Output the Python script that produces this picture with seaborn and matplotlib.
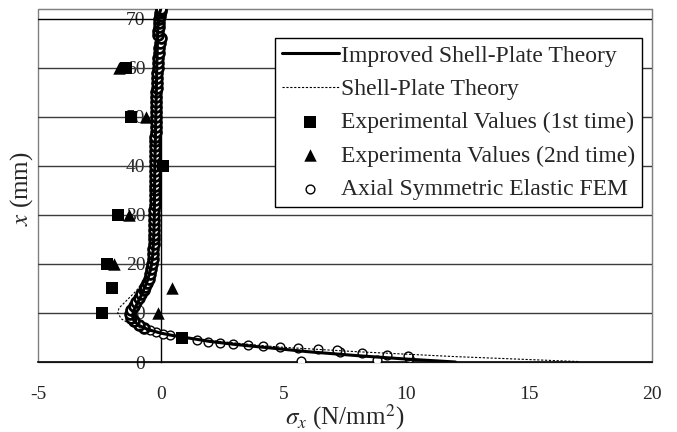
import numpy as np
import pandas as pd
import matplotlib
matplotlib.use("Agg")
import matplotlib.pyplot as plt
import seaborn as sns
from matplotlib.patches import Rectangle

# Improved Shell-Plate Theory (sigma_x, x)
imp_sigma = [12.0, 10.0, 8.0, 6.0, 5.0, 4.0, 3.0, 2.0, 1.0, 0.5, 0.0, -0.5, -0.9, -1.1, -1.15,
             -1.1, -0.95, -0.75, -0.55, -0.4, -0.32, -0.28, -0.26, -0.24, -0.2, -0.16, -0.12, -0.05, 0.0]
imp_x = [0.0, 0.6, 1.3, 2.1, 2.6, 3.1, 3.6, 4.2, 5.0, 5.4, 5.9, 6.6, 7.5, 8.5, 9.5,
         10.5, 12.0, 14.0, 16.5, 19.0, 22.0, 26.0, 30.0, 40.0, 50.0, 60.0, 68.0, 71.0, 72.0]

# Shell-Plate Theory
sp_sigma = [17.0, 15.0, 12.0, 10.0, 8.0, 6.0, 5.0, 4.0, 3.0, 2.0, 1.0, 0.0, -0.6, -1.2, -1.6,
            -1.75, -1.7, -1.4, -1.0, -0.7, -0.45, -0.33, -0.28, -0.26, -0.24, -0.2, -0.15, -0.1, 0.0]
sp_x = [0.1, 0.5, 1.1, 1.6, 2.1, 2.7, 3.0, 3.4, 3.9, 4.4, 5.0, 5.8, 6.5, 7.6, 8.8,
        10.0, 11.0, 12.5, 14.5, 16.5, 19.0, 22.0, 26.0, 30.0, 40.0, 50.0, 60.0, 68.0, 72.0]

# Experimental values
exp1_sigma = [-1.4, -1.2, 0.08, -1.75, -2.2, -2.0, -2.4, 0.85]
exp1_x = [60, 50, 40, 30, 20, 15, 10, 5]
exp2_sigma = [-1.7, -0.6, -1.3, -1.9, 0.45, -0.1]
exp2_x = [60, 50, 30, 20, 15, 10]

# Axial Symmetric Elastic FEM - outer (stress decaying) part
fem_sigma = [10.1, 10.05, 9.2, 8.8, 8.2, 7.3, 7.17, 6.39, 5.7, 5.58, 4.85, 4.15, 3.54, 2.93,
             2.4, 1.91, 1.47, 0.85, 0.37, 0.1, -0.2, -0.45]
fem_x = [0.8, 1.2, 1.4, 0.4, 1.8, 2.1, 2.4, 2.7, 0.2, 2.9, 3.1, 3.3, 3.5, 3.7,
         3.9, 4.1, 4.5, 4.8, 5.5, 5.8, 6.1, 6.5]
# Axial Symmetric Elastic FEM - dense band along the wall
band_sigma = [-0.7, -0.9, -1.1, -1.2, -1.25,
              -1.2, -1.1, -1.0, -0.9, -0.8, -0.7, -0.62, -0.55, -0.48, -0.43, -0.38, -0.35,
              -0.33, -0.31, -0.3, -0.29, -0.28, -0.28, -0.27, -0.27, -0.26, -0.26, -0.26,
              -0.25, -0.25, -0.25, -0.25, -0.25, -0.24, -0.24, -0.24, -0.24, -0.23, -0.23,
              -0.23, -0.22, -0.22, -0.22, -0.21, -0.21, -0.2, -0.2, -0.2, -0.19, -0.19, -0.18,
              -0.18, -0.17, -0.16, -0.15, -0.14, -0.13, -0.12, -0.1, -0.08, -0.05, -0.02, 0.0,
              -0.11, -0.1, -0.09, -0.08, -0.06, -0.04, -0.02, 0.0, 0.01]
band_x = [7.0, 7.6, 8.3, 9.0, 9.8,
          10.6, 11.4, 12.2, 13.0, 13.8, 14.6, 15.4, 16.2, 17.0, 18.0, 19.0, 20.0,
          21.0, 22.0, 23.0, 24.0, 25.0, 26.0, 27.0, 28.0, 29.0, 30.0, 31.0,
          32.0, 33.0, 34.0, 35.0, 36.0, 37.0, 38.0, 39.0, 40.0, 41.0, 42.0,
          43.0, 44.0, 45.0, 46.0, 47.0, 48.0, 49.0, 50.0, 51.0, 52.0, 53.0, 54.0,
          55.0, 56.0, 57.0, 58.0, 59.0, 60.0, 61.0, 62.0, 63.0, 64.0, 65.0, 66.0,
          66.8, 67.6, 68.4, 69.2, 70.0, 70.6, 71.2, 71.7, 72.0]

sns.set_style("white")
plt.rcParams["font.family"] = ["Liberation Serif", "DejaVu Serif"]
plt.rcParams["mathtext.fontset"] = "stix"

fig = plt.figure(figsize=(6.77, 4.32), dpi=100)
ax = fig.add_axes([0.056, 0.162, 0.907, 0.817])

sns.scatterplot(x=fem_sigma, y=fem_x, ax=ax, marker="o", s=40, facecolor="white",
                edgecolor="black", linewidth=1.0, zorder=3, label="Axial Symmetric Elastic FEM")
sns.scatterplot(x=band_sigma, y=band_x, ax=ax, marker="o", s=50, facecolor="white",
                edgecolor="black", linewidth=2.0, zorder=3)
sns.lineplot(x=sp_sigma, y=sp_x, ax=ax, sort=False, estimator=None, color="black", lw=0.8,
             linestyle=(0, (2, 1.5)), zorder=4, label="Shell-Plate Theory")
sns.lineplot(x=imp_sigma, y=imp_x, ax=ax, sort=False, estimator=None, color="black", lw=2.2,
             zorder=5, label="Improved Shell-Plate Theory")
sns.scatterplot(x=exp1_sigma, y=exp1_x, ax=ax, marker="s", s=75, color="black",
                edgecolor="black", linewidth=0, zorder=6, label="Experimental Values (1st time)")
sns.scatterplot(x=exp2_sigma, y=exp2_x, ax=ax, marker="^", s=80, color="black",
                edgecolor="black", linewidth=0, zorder=6, label="Experimenta Values (2nd time)")

ax.set_xlim(-5, 20)
ax.set_ylim(0, 72)
ax.set_xticks([-5, 0, 5, 10, 15, 20])
ax.set_xticklabels(["-5", "0", "5", "10", "15", "20"])
ax.set_yticks(range(0, 71, 10))

for y in range(10, 71, 10):
    ax.axhline(y, color="#3c3c3c" if y < 70 else "black", lw=1.0, zorder=1)

ax.spines["left"].set_position(("data", 0))
ax.spines["left"].set_color("black")
ax.spines["left"].set_linewidth(1.0)
ax.spines["left"].set_zorder(2)
ax.spines["bottom"].set_color("black")
ax.spines["bottom"].set_linewidth(1.2)
ax.spines["top"].set_color("#808080")
ax.spines["right"].set_color("#808080")
ax.add_patch(Rectangle((0, 0), 1, 1, transform=ax.transAxes, fill=False,
                       edgecolor="#808080", lw=1.0, zorder=0.5, clip_on=False))

ax.tick_params(axis="y", length=0, pad=11, labelsize=14)
ax.tick_params(axis="x", direction="in", length=7, width=0.8, pad=17, labelsize=14)
for lab in ax.get_yticklabels():
    lab.set_zorder(2)

ax.set_xlabel(r"$\sigma_x$ (N/mm$^2$)", fontsize=18, labelpad=0)
ax.set_ylabel(r"$x$ (mm)", fontsize=18)
ax.yaxis.set_label_coords(-0.005, 0.49)

handles, labels = ax.get_legend_handles_labels()
order = ["Improved Shell-Plate Theory", "Shell-Plate Theory", "Experimental Values (1st time)",
         "Experimenta Values (2nd time)", "Axial Symmetric Elastic FEM"]
hmap = dict(zip(labels, handles))
leg = ax.legend([hmap[k] for k in order], order, loc="upper right",
                bbox_to_anchor=(0.984, 0.918), borderaxespad=0, fontsize=17,
                frameon=True, fancybox=False, framealpha=1, edgecolor="black",
                handlelength=2.4, handletextpad=0.1, labelspacing=0.5, borderpad=0.3)
leg.get_frame().set_linewidth(1.0)
leg.set_zorder(10)

fig.savefig("out.png", dpi=100)
